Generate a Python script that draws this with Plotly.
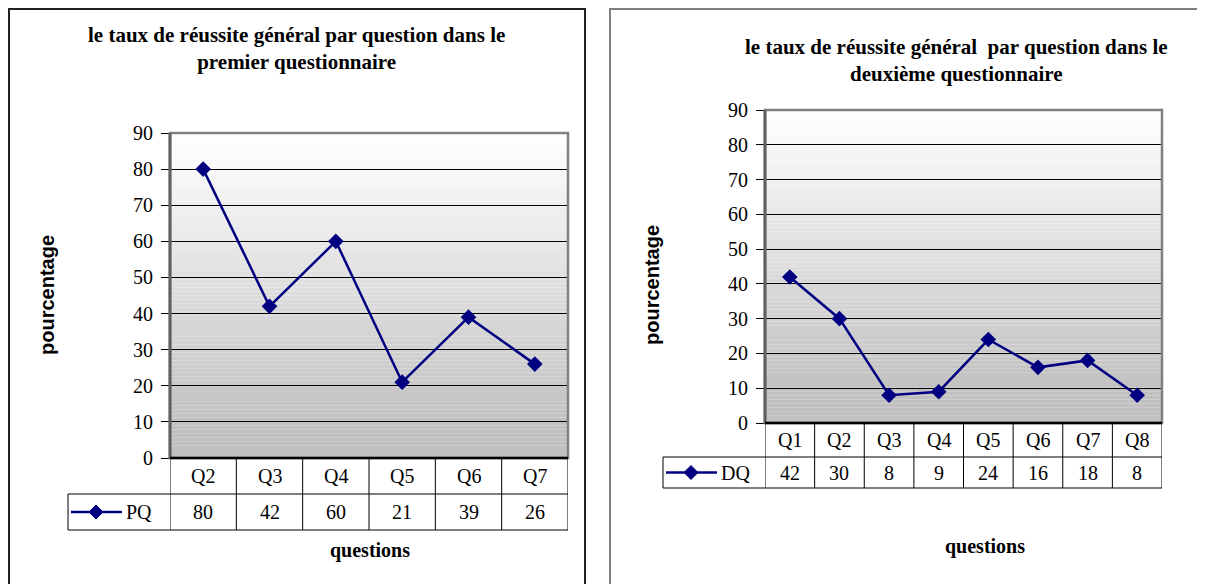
import plotly.graph_objects as go

# ---------------- data ----------------
categories_pq = ["Q2", "Q3", "Q4", "Q5", "Q6", "Q7"]
values_pq = [80, 42, 60, 21, 39, 26]
categories_dq = ["Q1", "Q2", "Q3", "Q4", "Q5", "Q6", "Q7", "Q8"]
values_dq = [42, 30, 8, 9, 24, 16, 18, 8]
y_ticks = [0, 10, 20, 30, 40, 50, 60, 70, 80, 90]
title_pq = "le taux de réussite général par question dans le<br>premier questionnaire"
title_dq = "le taux de réussite général  par question dans le<br>deuxième questionnaire"
series_pq = "PQ"
series_dq = "DQ"

W, H = 1205, 584
OFF = 8  # page body margin
NAVY = "#000080"
SERIF = "Liberation Serif, Times New Roman, serif"
SANS = "Liberation Sans, Arial, sans-serif"


def px(x):
    return (x - OFF) / W


def py(y):
    return 1 - (y - OFF) / H


fig = go.Figure()

panels = [
    dict(cats=categories_pq, vals=values_pq, name=series_pq, title=title_pq,
         xa="x", ya="y", xaxis="xaxis", yaxis="yaxis", frame_color="#222222",
         frame=(9, 9, 585, 620), plot=(170, 133, 568, 458),
         rows=(458, 494, 530), legx=68,
         title_xy=(296, 48), ytitle_xy=(47, 295), xtitle_xy=(370, 550)),
    dict(cats=categories_dq, vals=values_dq, name=series_dq, title=title_dq,
         xa="x2", ya="y2", xaxis="xaxis2", yaxis="yaxis2", frame_color="#808080",
         frame=(610, 9, 1230, 620), plot=(765, 110, 1162, 423),
         rows=(423, 457, 488), legx=663,
         title_xy=(956, 60), ytitle_xy=(652, 285), xtitle_xy=(985, 546)),
]

shapes = []
annotations = []
layout_axes = {}

for p in panels:
    n = len(p["cats"])
    fig.add_trace(go.Scatter(
        x=list(range(n)), y=p["vals"], name=p["name"], mode="lines+markers",
        line=dict(color=NAVY, width=2.5),
        marker=dict(symbol="diamond", size=12, color=NAVY),
        xaxis=p["xa"], yaxis=p["ya"], showlegend=False, hoverinfo="skip"))

    x0, y0, x1, y1 = p["plot"]
    layout_axes[p["xaxis"]] = dict(
        domain=[px(x0), px(x1)], range=[-0.5, n - 0.5], showgrid=False,
        zeroline=False, showticklabels=False, ticks="", showline=False,
        anchor=p["ya"], fixedrange=True, automargin=False)
    layout_axes[p["yaxis"]] = dict(
        domain=[py(y1), py(y0)], range=[0, 90], tickvals=y_ticks,
        showgrid=True, gridcolor="#000000", gridwidth=1, zeroline=False,
        ticks="outside", ticklen=8, tickcolor="#000000", tickwidth=1,
        ticklabelstandoff=4,
        tickfont=dict(family=SERIF, size=20, color="#000000"),
        showline=False, anchor=p["xa"], fixedrange=True, automargin=False)

    # panel frame
    fx0, fy0, fx1, fy1 = p["frame"]
    shapes.append(dict(type="rect", xref="paper", yref="paper",
                       x0=px(fx0), x1=px(fx1), y0=py(fy1), y1=py(fy0),
                       line=dict(color=p["frame_color"], width=2),
                       fillcolor="rgba(0,0,0,0)", layer="below"))

    # gradient background (white top -> silver bottom)
    nb = 80
    for i in range(nb):
        t = min(1.0, (i + 0.5) / nb * 1.1)
        c = int(round(255 - (255 - 192) * t))
        shapes.append(dict(type="rect", xref=p["xa"] + " domain", yref=p["ya"] + " domain",
                           x0=0, x1=1, y0=1 - (i + 1) / nb, y1=1 - i / nb,
                           fillcolor=f"rgb({c},{c},{c})", line=dict(width=0), layer="below"))

    # plot area border (gray) and axis lines
    shapes.append(dict(type="rect", xref=p["xa"] + " domain", yref=p["ya"] + " domain",
                       x0=0, x1=1, y0=0, y1=1, line=dict(color="#808080", width=2.5),
                       fillcolor="rgba(0,0,0,0)", layer="above"))
    shapes.append(dict(type="line", xref=p["xa"] + " domain", yref=p["ya"] + " domain",
                       x0=0, x1=0, y0=0, y1=1, line=dict(color="#606060", width=3), layer="above"))
    shapes.append(dict(type="line", xref=p["xa"] + " domain", yref=p["ya"] + " domain",
                       x0=0, x1=1, y0=0, y1=0, line=dict(color="#000000", width=2.5), layer="above"))

    # data table
    r0, r1, r2 = p["rows"]
    lx = p["legx"]
    tl = dict(color="#000000", width=1)
    shapes.append(dict(type="line", xref="paper", yref="paper", x0=px(lx), x1=px(x1),
                       y0=py(r1), y1=py(r1), line=tl))
    shapes.append(dict(type="line", xref="paper", yref="paper", x0=px(lx), x1=px(x1),
                       y0=py(r2), y1=py(r2), line=tl))
    shapes.append(dict(type="line", xref="paper", yref="paper", x0=px(lx), x1=px(lx),
                       y0=py(r2), y1=py(r1), line=tl))
    for k in range(n + 1):
        shapes.append(dict(type="line", xref=p["xa"], yref="paper", x0=k - 0.5, x1=k - 0.5,
                           y0=py(r2), y1=py(r0), line=tl))
    for k, (c, v) in enumerate(zip(p["cats"], p["vals"])):
        annotations.append(dict(xref=p["xa"], yref="paper", x=k, y=py((r0 + r1) / 2),
                                xanchor="center", yanchor="middle",
                                text=c, showarrow=False,
                                font=dict(family=SERIF, size=20, color="#000000")))
        annotations.append(dict(xref=p["xa"], yref="paper", x=k, y=py((r1 + r2) / 2),
                                xanchor="center", yanchor="middle",
                                text=str(v), showarrow=False,
                                font=dict(family=SERIF, size=20, color="#000000")))

    # legend key inside the legend cell
    rc = (r1 + r2) / 2
    shapes.append(dict(type="line", xref="paper", yref="paper", x0=px(lx + 3), x1=px(lx + 54),
                       y0=py(rc), y1=py(rc), line=dict(color=NAVY, width=2.5)))
    shapes.append(dict(type="path", xref="paper", yref="paper", xsizemode="pixel",
                       ysizemode="pixel", xanchor=px(lx + 28), yanchor=py(rc),
                       path="M0,-7 L7,0 L0,7 L-7,0 Z", fillcolor=NAVY,
                       line=dict(color=NAVY, width=1)))
    annotations.append(dict(xref="paper", yref="paper", x=px(lx + 56), y=py(rc),
                            xanchor="left", yanchor="middle", text=p["name"], showarrow=False,
                            font=dict(family=SERIF, size=20, color="#000000")))

    # titles
    tx, ty = p["title_xy"]
    annotations.append(dict(xref="paper", yref="paper", x=px(tx), y=py(ty),
                            xanchor="center", yanchor="middle",
                            text="<b>" + p["title"] + "</b>", showarrow=False,
                            font=dict(family=SERIF, size=21, color="#000000"), align="center"))
    ax_, ay_ = p["ytitle_xy"]
    annotations.append(dict(xref="paper", yref="paper", x=px(ax_), y=py(ay_),
                            xanchor="center", yanchor="middle",
                            text="<b>pourcentage</b>", showarrow=False, textangle=-90,
                            font=dict(family=SANS, size=20, color="#000000")))
    qx, qy = p["xtitle_xy"]
    annotations.append(dict(xref="paper", yref="paper", x=px(qx), y=py(qy),
                            xanchor="center", yanchor="middle",
                            text="<b>questions</b>", showarrow=False,
                            font=dict(family=SERIF, size=20, color="#000000")))

fig.update_layout(
    width=W, height=H, margin=dict(l=0, r=0, t=0, b=0, autoexpand=False),
    paper_bgcolor="#ffffff", plot_bgcolor="rgba(0,0,0,0)", showlegend=False,
    shapes=shapes, annotations=annotations, **layout_axes)

fig.write_html("out.html")
